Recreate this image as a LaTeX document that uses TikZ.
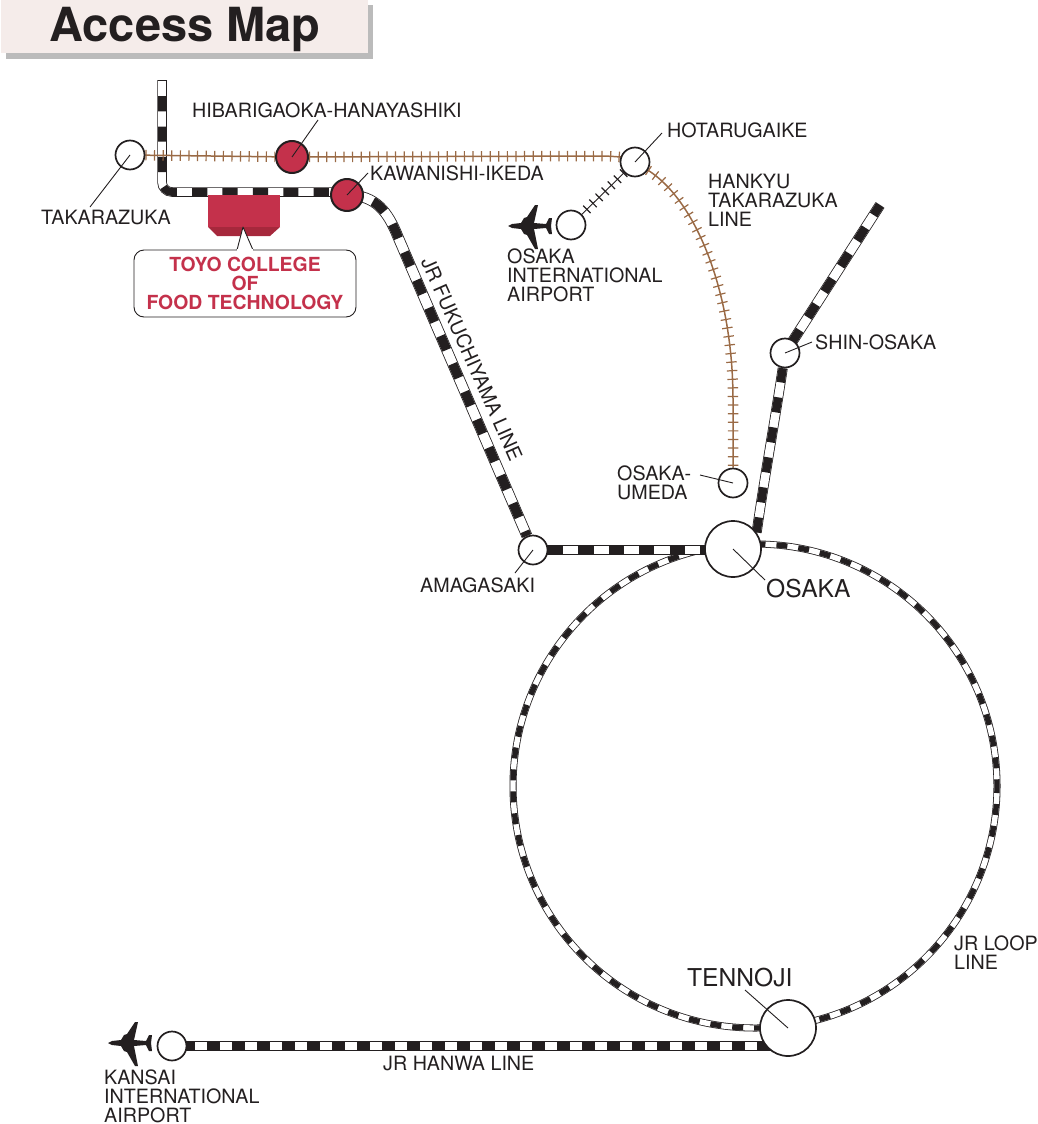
\documentclass[tikz,border=0pt]{standalone}
\usepackage{fontspec}
\setmainfont{TeX Gyre Heros}
\usetikzlibrary{backgrounds}
\definecolor{ink}{HTML}{231F20}
\definecolor{hankyu}{HTML}{9A6A45}
\definecolor{schoolred}{HTML}{C4314B}
\definecolor{schooldark}{HTML}{A6283C}
\definecolor{titlebg}{HTML}{F5ECEA}
\definecolor{titleshade}{HTML}{BBBBBB}
\tikzset{
	stn/.style={circle,draw=ink,fill=white,line width=1.7pt,inner sep=0pt,minimum size=#1},
	stn/.default=29pt,
	redstn/.style={stn=32pt,fill=schoolred,line width=2pt},
	lbl/.style={anchor=west,align=left,text=ink,inner sep=0pt,font=\fontsize{19.7}{18.9}\selectfont},
	biglbl/.style={anchor=west,text=ink,inner sep=0pt,font=\fontsize{24.6}{26}\selectfont},
	leader/.style={draw=ink,line width=0.9pt},
	jrrail/.style n args={3}{line width=#1,draw=ink,postaction={draw=white,line width=#1-1.6pt},
		postaction={draw=ink,line width=#1-1.6pt,dash pattern=on #2 off #2,dash phase=#3}},
	ties/.style={line width=#1,postaction={draw,line width=10.5pt,dash pattern=on 1.2pt off 7.4pt}},
}
\newcommand{\drawplane}[2]{
\begin{scope}[shift={(#1,#2)}]
	\fill[ink] (0,0) -- (4,-2) -- (13,-3) -- (16,-8) -- (19,-9) -- (27,-21) -- (30,-21) -- (26,-3)
		-- (38,-2) -- (41,-8) -- (44,-8) -- (43,0) -- (44,8) -- (41,8) -- (38,2) -- (26,3)
		-- (30,23) -- (27,23) -- (19,9) -- (16,8) -- (13,3) -- (4,2) -- cycle;
\end{scope}
}
\begin{document}
\begin{tikzpicture}[x=1pt,y=-1pt,line join=round]
	\useasboundingbox (0,0) rectangle (1037,1124);
	% Title
	\node[fill=titlebg,minimum width=367pt,minimum height=53pt,inner sep=0pt] (titlebox) at (184.5,26.5) {};
	\node[anchor=base,text=ink,inner sep=0pt,font=\fontsize{47}{50}\bfseries\selectfont] (titletext) at (185,42) {Access Map};
	% Stations
	\node[stn] (takarazuka) at (130,155) {};
	\node[redstn] (hibari) at (292,157) {};
	\node[redstn] (kawanishi) at (347,195) {};
	\node[stn] (hotaru) at (635,162) {};
	\node[stn] (itami) at (571,225) {};
	\node[stn] (shinosaka) at (785,353) {};
	\node[stn] (umeda) at (733,483) {};
	\node[stn] (amagasaki) at (533,550) {};
	\node[stn=56pt] (osaka) at (733,549) {};
	\node[stn=56pt] (tennoji) at (788,1028) {};
	\node[stn] (kansai) at (172,1046) {};
	\coordinate (looph) at (755,786);
	\coordinate (northend) at (162,80);
	\coordinate (westjoin) at (340,192);
	\coordinate (eastend) at (880,205);
	\begin{scope}[on background layer]
		\fill[titleshade] ([shift={(5,5.5)}]titlebox.north west) rectangle ([shift={(5,5.5)}]titlebox.south east);
		% JR lines
		\draw[jrrail={7pt}{11pt}{4pt}] (looph) circle (242);
		\draw[jrrail={9.5pt}{15.2pt}{14.3pt},rounded corners=10pt] (northend) |- (westjoin);
		\draw[jrrail={11pt}{15.2pt}{3.4pt}] (kawanishi.center) .. controls (376,195) and (388,212) .. (398,237) -- (amagasaki);
		\draw[jrrail={9.5pt}{15.2pt}{15.4pt}] (amagasaki.center) -- (amagasaki -| osaka);
		\draw[jrrail={10pt}{15.2pt}{0pt}] (osaka.35) .. controls (764,480) and (775,420) .. (shinosaka);
		\draw[jrrail={10.5pt}{15.2pt}{18.4pt}] (shinosaka.center) -- (eastend);
		\draw[jrrail={9.5pt}{12.5pt}{15pt}] (kansai.center) -- (kansai -| tennoji);
		% Hankyu lines
		\draw[hankyu,ties=1.5pt] (takarazuka) -- (hibari) -- (600,156) .. controls (615,156) and (625,158) .. (hotaru);
		\draw[hankyu,ties=1.5pt] (hotaru) .. controls (695,200) and (733,290) .. (733,400) -- (umeda);
		\draw[ink,ties=0.9pt] (hotaru) -- (itami);
	\end{scope}
	% School
	\fill[schooldark] (208,227) -- (280,227) -- (270,236) -- (217,236) -- cycle;
	\fill[schoolred] (208,195) rectangle (280,227);
	\node[draw=ink,line width=0.9pt,fill=white,rounded corners=10pt,minimum width=222pt,minimum height=67pt,inner sep=0pt,
		align=center,text=schoolred,font=\fontsize{19.4}{18.6}\bfseries\selectfont] (callout) at (245,283.5)
		{TOYO COLLEGE\\OF\\FOOD TECHNOLOGY};
	\coordinate (pointer) at (243,227);
	\coordinate (pointl) at (237,250);
	\coordinate (pointr) at (253,250);
	\fill[white] (pointl) -- (pointer) -- (pointr) -- cycle;
	\draw[leader] (pointl) -- (pointer) -- (pointr);
	\draw[white,line width=1.4pt] (pointl) -- (pointr);
	% Planes
	\drawplane{508}{226}
	\drawplane{108}{1043}
	% Labels
	\node[lbl] (hibarilbl) at (192,110) {HIBARIGAOKA-HANAYASHIKI};
	\node[lbl] (takarazukalbl) at (41,217) {TAKARAZUKA};
	\node[lbl] (kawanishilbl) at (370,173) {KAWANISHI-IKEDA};
	\node[lbl] (hotarulbl) at (667,130) {HOTARUGAIKE};
	\node[lbl] (hankyulbl) at (708,200) {HANKYU\\TAKARAZUKA\\LINE};
	\node[lbl] (itamilbl) at (507,275) {OSAKA\\INTERNATIONAL\\AIRPORT};
	\node[lbl] (shinosakalbl) at (815,342) {SHIN-OSAKA};
	\node[lbl] (umedalbl) at (617,483) {OSAKA-\\UMEDA};
	\node[lbl] (amagasakilbl) at (420,585) {AMAGASAKI};
	\node[lbl] (looplbl) at (954,953) {JR LOOP\\LINE};
	\node[lbl] (hanwalbl) at (383,1063) {JR HANWA LINE};
	\node[lbl] (kansailbl) at (104,1096) {KANSAI\\INTERNATIONAL\\AIRPORT};
	\node[lbl,anchor=center,rotate=-66] (fukuchilbl) at (472,359) {JR FUKUCHIYAMA LINE};
	\node[biglbl] (osakalbl) at (766,589) {OSAKA};
	\node[biglbl] (tennojilbl) at (687,978) {TENNOJI};
	% Leaders
	\foreach \st/\pt in {hibari/{318,120},takarazuka/{90,207},kawanishi/{368,173},hotaru/{662,133},
		shinosaka/{812,342},umeda/{700,475},amagasaki/{515,573},osaka/{765,580},tennoji/{745,990}}{
		\coordinate (\st end) at (\pt);
		\draw[leader] (\st.center) -- (\st end);
	}
\end{tikzpicture}
\end{document}
